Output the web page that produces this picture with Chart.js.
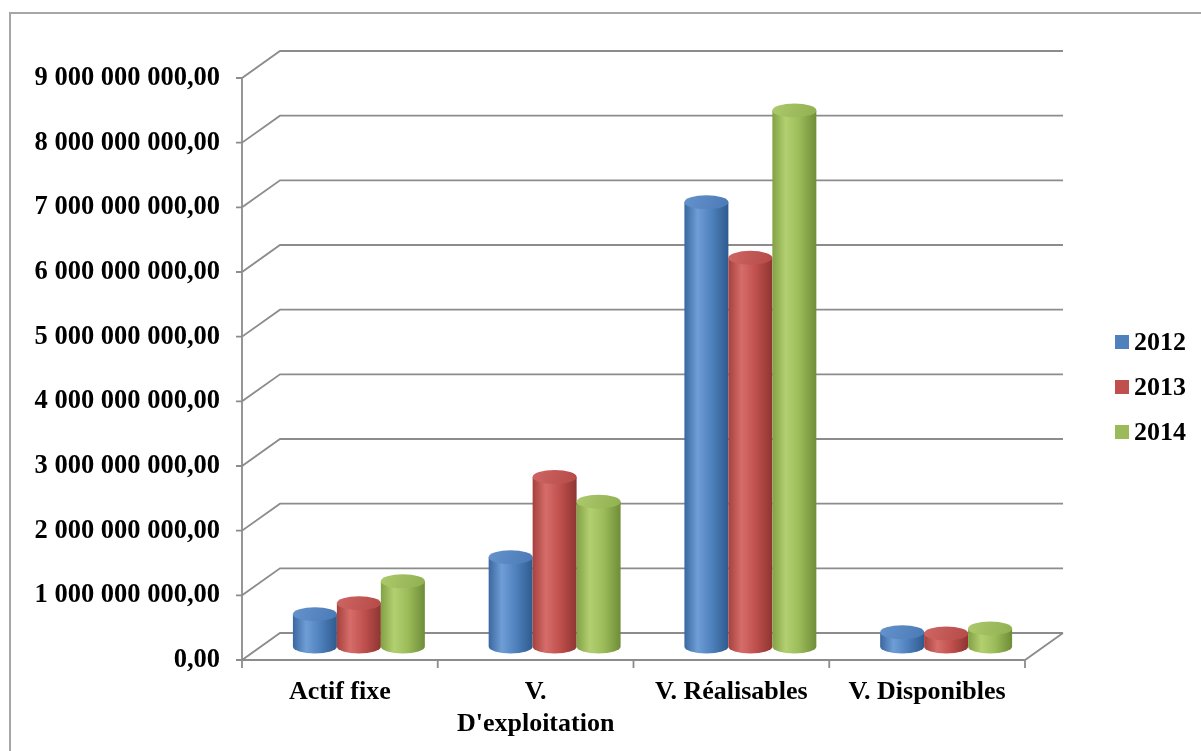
<!DOCTYPE html>
<html>
<head>
<meta charset="utf-8">
<script src="https://cdn.jsdelivr.net/npm/chart.js@4.4.1/dist/chart.umd.min.js"></script>
<style>
  html, body { margin: 0; padding: 0; background: #ffffff; }
  #wrap { position: relative; width: 1201px; height: 751px; }
</style>
</head>
<body>
<div id="wrap"><canvas id="c"></canvas></div>
<script>
// ---- data ----
const categories = ['Actif fixe', ['V.', "D'exploitation"], 'V. Réalisables', 'V. Disponibles'];
const seriesNames = ['2012', '2013', '2014'];
const values2012 = [500000000, 1380000000, 6870000000, 220000000];
const values2013 = [670000000, 2620000000, 6010000000, 200000000];
const values2014 = [1010000000, 2240000000, 8290000000, 280000000];
const yMin = 0;
const yMax = 9000000000;
const yStep = 1000000000;

// ---- styles ----
const palette = [
  { base: '#4f81bd', left: '#3a679f', hl: '#6f9dd6', right: '#2f5a8e', top1: '#6592cc', top2: '#4a7ab6' },
  { base: '#c0504d', left: '#a5413e', hl: '#d66d6a', right: '#8e3532', top1: '#cf6663', top2: '#b54a47' },
  { base: '#9bbb59', left: '#82a145', hl: '#b3d070', right: '#6f8c38', top1: '#adc96d', top2: '#90b04f' }
];
const DX = 38, DY = -27;   // depth offset of the back wall
const GRID = '#8c8c8c';
const SERIF = '"Liberation Serif", "Times New Roman", serif';

function fmt(v) {
  const s = Math.round(v).toString().replace(/\B(?=(\d{3})+(?!\d))/g, ' ');
  return s + ',00';
}

function cylinder(ctx, cx, top, bottom, w, ry, c) {
  const rx = w / 2, l = cx - rx, r = cx + rx;
  if (bottom - top < 0) return;
  const g = ctx.createLinearGradient(l, 0, r, 0);
  g.addColorStop(0, c.left);
  g.addColorStop(0.3, c.hl);
  g.addColorStop(0.62, c.base);
  g.addColorStop(1, c.right);
  ctx.beginPath();
  ctx.moveTo(l, top);
  ctx.lineTo(l, bottom);
  ctx.ellipse(cx, bottom, rx, ry, 0, Math.PI, 0, true);
  ctx.lineTo(r, top);
  ctx.closePath();
  ctx.fillStyle = g;
  ctx.fill();
  const tg = ctx.createLinearGradient(l, top - ry, r, top + ry);
  tg.addColorStop(0, c.top1);
  tg.addColorStop(1, c.top2);
  ctx.beginPath();
  ctx.ellipse(cx, top, rx, ry, 0, 0, Math.PI * 2);
  ctx.fillStyle = tg;
  ctx.fill();
}

const threeD = {
  id: 'threeD',
  beforeDatasetsDraw(chart) {
    const { ctx, chartArea: a, scales: { x, y } } = chart;
    ctx.save();
    // outer frame
    ctx.strokeStyle = '#a6a6a6';
    ctx.lineWidth = 2;
    ctx.beginPath();
    ctx.moveTo(10, 751); ctx.lineTo(10, 13); ctx.lineTo(1201, 13);
    ctx.stroke();
    // walls
    ctx.strokeStyle = GRID;
    ctx.lineWidth = 1.8;
    ctx.beginPath();
    y.ticks.forEach(t => {
      const py = y.getPixelForValue(t.value);
      ctx.moveTo(a.left - 6, py);
      ctx.lineTo(a.left, py);
      ctx.lineTo(a.left + DX, py + DY);
      ctx.lineTo(a.right + DX, py + DY);
    });
    // front vertical axis
    ctx.moveTo(a.left, a.top);
    ctx.lineTo(a.left, a.bottom);
    // floor front edge & right side
    ctx.moveTo(a.left, a.bottom);
    ctx.lineTo(a.right, a.bottom);
    ctx.lineTo(a.right + DX, a.bottom + DY);
    // category tick marks
    for (let i = 0; i <= categories.length; i++) {
      const px = x.getPixelForValue(i - 0.5);
      ctx.moveTo(px, a.bottom);
      ctx.lineTo(px, a.bottom + 8);
    }
    ctx.stroke();
    ctx.restore();
  },
  afterDatasetsDraw(chart) {
    const { ctx } = chart;
    ctx.save();
    const n = chart.data.labels.length;
    for (let j = 0; j < n; j++) {
      chart.data.datasets.forEach((ds, i) => {
        const bar = chart.getDatasetMeta(i).data[j];
        cylinder(ctx, bar.x + DX / 2, bar.y + DY / 2, bar.base + DY / 2, bar.width, 7, palette[i]);
      });
    }
    // legend
    ctx.font = 'bold 26px ' + SERIF;
    ctx.textBaseline = 'middle';
    ctx.textAlign = 'left';
    seriesNames.forEach((name, i) => {
      const cy = 342 + i * 45;
      ctx.fillStyle = palette[i].base;
      ctx.fillRect(1115, cy - 7, 14, 14);
      ctx.fillStyle = '#000000';
      ctx.fillText(name, 1134, cy + 1);
    });
    ctx.restore();
  }
};

const mk = (label, data) => ({ label, data, backgroundColor: 'rgba(0,0,0,0)', borderWidth: 0,
  categoryPercentage: 0.674, barPercentage: 1.0 });

new Chart(document.getElementById('c'), {
  type: 'bar',
  data: {
    labels: categories,
    datasets: [
      mk(seriesNames[0], values2012),
      mk(seriesNames[1], values2013),
      mk(seriesNames[2], values2014)
    ]
  },
  options: {
    responsive: true,
    maintainAspectRatio: false,
    animation: false,
    devicePixelRatio: 1,
    layout: { padding: { left: 0, top: 78, right: 176, bottom: 0 } },
    plugins: { legend: { display: false }, tooltip: { enabled: false } },
    scales: {
      x: {
        grid: { display: false, drawTicks: false },
        border: { display: false },
        ticks: { color: '#000', padding: 17, font: { family: SERIF, size: 26, weight: 'bold', lineHeight: 1.2 }, maxRotation: 0, autoSkip: false },
        afterFit(s) { s.height = 91; }
      },
      y: {
        min: yMin, max: yMax,
        grid: { display: false, drawTicks: false },
        border: { display: false },
        ticks: { stepSize: yStep, color: '#000', padding: 22, font: { family: SERIF, size: 26.5, weight: 'bold' }, callback: v => fmt(v) },
        afterFit(s) { s.width = 242; }
      }
    }
  },
  plugins: [threeD]
});
</script>
</body>
</html>
